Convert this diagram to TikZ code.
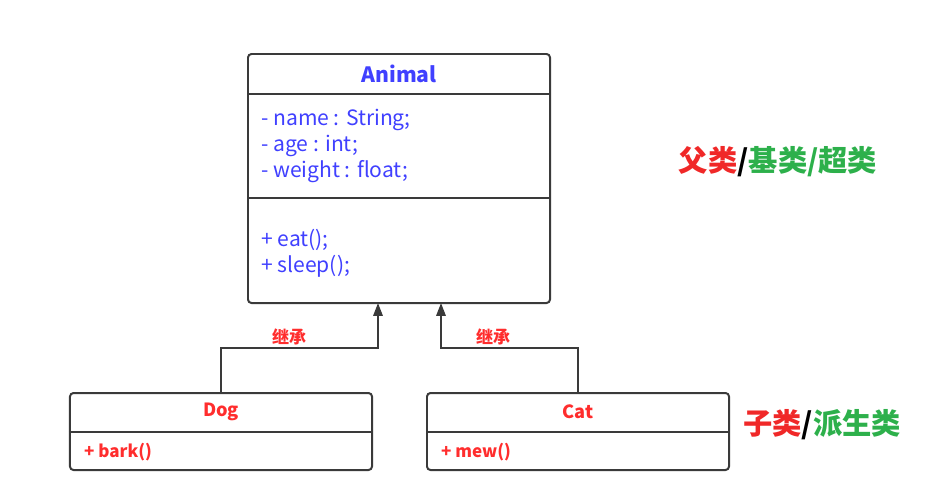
\documentclass[tikz,border=0pt]{standalone}
\usepackage{fontspec}
\setmainfont{Noto Sans CJK SC}
\usetikzlibrary{positioning, arrows.meta}
\definecolor{ClassBlue}{HTML}{4040FF}
\definecolor{ClassRed}{HTML}{FF2D2D}
\definecolor{TagRed}{HTML}{F02828}
\definecolor{TagGreen}{HTML}{2DB04B}
\definecolor{LineGray}{HTML}{3A3A3A}

\begin{document}
\begin{tikzpicture}[x=0.03cm, y=-0.03cm,
      classbox/.style={draw=LineGray, line width=1.7pt, rounded corners=3pt, fill=white,
                       minimum width=9.06cm, inner sep=0pt},
      divider/.style={draw=LineGray, line width=1.3pt},
      inherit/.style={draw=LineGray, line width=1.7pt, -{Triangle[width=8pt,length=11pt]}},
      member/.style={anchor=west, inner sep=0pt, font=\fontsize{18}{22}\selectfont},
      subname/.style={inner sep=0pt, text=ClassRed, font=\fontsize{15.5}{18}\selectfont\bfseries},
      subop/.style={anchor=west, inner sep=0pt, text=ClassRed, font=\fontsize{14.5}{17}\selectfont\bfseries},
      edgelabel/.style={font=\fontsize{14.5}{16}\selectfont\bfseries, text=ClassRed, inner sep=0pt},
      tag/.style={font=\fontsize{25}{28}\selectfont\bfseries, inner sep=0pt}]
      \useasboundingbox (0,0) rectangle (932,497);

      % Parent class
      \node[classbox, minimum height=7.47cm] (animal) at (399,178.5) {};
      \draw[divider] (animal.west |- 0,94) -- (animal.east |- 0,94);
      \draw[divider] (animal.west |- 0,198) -- (animal.east |- 0,198);
      \node[font=\fontsize{18}{20}\selectfont\bfseries, text=ClassBlue, inner sep=0pt] (animalname) at (399,74) {Animal};
      \node[member, text=ClassBlue] (fname) at (261,120) {- name : String;};
      \node[member, text=ClassBlue] (fage) at (261,146) {- age : int;};
      \node[member, text=ClassBlue] (fweight) at (261,172) {- weight : float;};
      \node[member, text=ClassBlue] (meat) at (261,240) {+ eat();};
      \node[member, text=ClassBlue] (msleep) at (261,266) {+ sleep();};

      % Child classes
      \node[classbox, minimum height=2.31cm] (dog) at (221,431.5) {};
      \draw[divider] (dog.west |- 0,432) -- (dog.east |- 0,432);
      \node[subname] (dogname) at (221,412) {Dog};
      \node[subop] (dogops) at (84,452) {+ bark()};

      \node[classbox, minimum height=2.31cm] (cat) at (578,431.5) {};
      \draw[divider] (cat.west |- 0,432) -- (cat.east |- 0,432);
      \node[subname] (catname) at (578,412) {Cat};
      \node[subop] (catops) at (441,452) {+ mew()};

      % Inheritance
      \coordinate (inleft) at (378,303);
      \coordinate (inright) at (441,303);
      \draw[inherit] (dog.north) -- (dog.north |- 0,348) -| (inleft);
      \draw[inherit] (cat.north) -- (cat.north |- 0,348) -| (inright);
      \node[edgelabel] (dogedge) at (289,337) {继承};
      \node[edgelabel] (catedge) at (493,337) {继承};

      % Tags
      \node[tag] (parenttag) at (778,162) {\textcolor{TagRed}{父类}/\textcolor{TagGreen}{基类/超类}};
      \node[tag] (childtag) at (822,425) {\textcolor{TagRed}{子类}/\textcolor{TagGreen}{派生类}};
    \end{tikzpicture}
\end{document}
